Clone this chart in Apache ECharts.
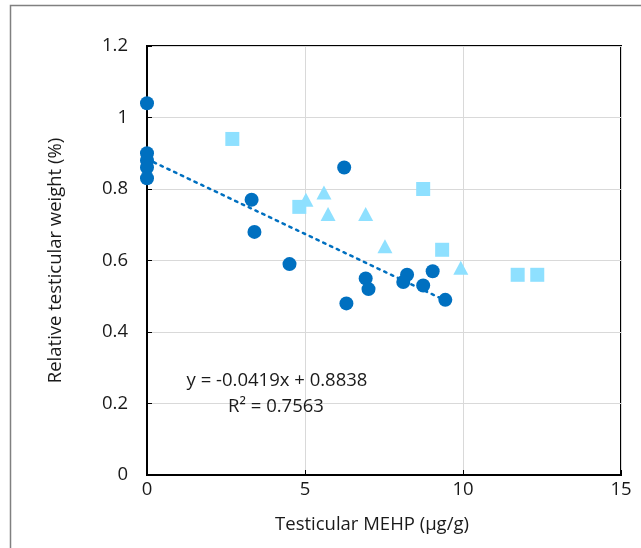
<!DOCTYPE html>
<html><head><meta charset="utf-8">
<script src="https://cdn.jsdelivr.net/npm/echarts@6/dist/echarts.min.js"></script>
<style>html,body{margin:0;padding:0;background:#fff}#c{width:641px;height:548px}</style>
</head><body><div id="c"></div>
<script>
// Dark blue circles (fitted series)
const circleX = [0, 0, 0, 0, 0, 3.31, 3.40, 4.51, 6.24, 6.31, 6.92, 7.01, 8.23, 8.11, 8.74, 9.04, 9.44];
const circleY = [1.04, 0.90, 0.88, 0.86, 0.83, 0.77, 0.68, 0.59, 0.86, 0.48, 0.55, 0.52, 0.56, 0.54, 0.53, 0.57, 0.49];
// Light blue squares
const squareX = [2.70, 4.82, 8.74, 9.34, 11.73, 12.35];
const squareY = [0.94, 0.75, 0.80, 0.63, 0.56, 0.56];
// Light blue triangles
const triX = [5.03, 5.60, 5.73, 6.92, 7.53, 9.93];
const triY = [0.77, 0.79, 0.73, 0.73, 0.64, 0.58];
// Linear trendline
const slope = -0.0419, intercept = 0.8838, r2 = 0.7563;
const xTicks = [0, 5, 10, 15];
const yTicks = [0, 0.2, 0.4, 0.6, 0.8, 1, 1.2];

const zip = (a, b) => a.map((v, i) => [v, b[i]]);
const xmin = Math.min(...circleX), xmax = Math.max(...circleX);
const trend = [[xmin, intercept + slope * xmin], [xmax, intercept + slope * xmax]];

const FONT = '"Open Sans", Lato, sans-serif';
const FS = 18.5;
const TXT = '#1a1a1a';
const DARK = '#0070C0', LIGHT = '#8EE0FF';

const chart = echarts.init(document.getElementById('c'), null, {renderer: 'canvas'});
chart.setOption({
  animation: false,
  backgroundColor: '#fff',
  grid: {left: 147, top: 46, right: 20, bottom: 73, show: true, borderColor: '#000', borderWidth: 2, containLabel: false},
  xAxis: {
    type: 'value', min: xTicks[0], max: xTicks[xTicks.length - 1], interval: xTicks[1] - xTicks[0],
    name: 'Testicular MEHP (\u03bcg/g)', nameLocation: 'middle', nameGap: 40,
    nameTextStyle: {fontFamily: FONT, fontSize: FS, color: TXT, padding: [0, 24, 0, 0]},
    axisLine: {show: true, lineStyle: {color: '#000', width: 2}},
    axisTick: {show: true, inside: true, length: 5, lineStyle: {color: '#000'}},
    axisLabel: {fontFamily: FONT, fontSize: FS, color: TXT, margin: 5},
    splitLine: {show: true, lineStyle: {color: '#d9d9d9', width: 1}}
  },
  yAxis: {
    type: 'value', min: yTicks[0], max: yTicks[yTicks.length - 1], interval: 0.2,
    name: 'Relative testicular weight (%)', nameLocation: 'middle', nameGap: 82,
    nameTextStyle: {fontFamily: FONT, fontSize: FS, color: TXT},
    axisLine: {show: true, lineStyle: {color: '#000', width: 2}},
    axisTick: {show: true, inside: true, length: 5, lineStyle: {color: '#000'}},
    axisLabel: {fontFamily: FONT, fontSize: FS, color: TXT, margin: 19,
      formatter: v => String(Math.round(v * 10) / 10)},
    splitLine: {show: true, lineStyle: {color: '#d9d9d9', width: 1}}
  },
  series: [
    {type: 'line', data: trend, symbol: 'none', z: 1,
     lineStyle: {color: DARK, width: 2.5, type: [2.5, 5], cap: 'round'}},
    {type: 'scatter', data: zip(squareX, squareY), symbol: 'rect', symbolSize: 14,
     itemStyle: {color: LIGHT, opacity: 1}, z: 3},
    {type: 'scatter', data: zip(triX, triY), symbol: 'triangle', symbolSize: [15, 14],
     itemStyle: {color: LIGHT, opacity: 1}, z: 3},
    {type: 'scatter', data: zip(circleX, circleY), symbol: 'circle', symbolSize: 14,
     itemStyle: {color: DARK, opacity: 1}, z: 4}
  ],
  graphic: [
    {type: 'rect', shape: {x: 10.5, y: 5.5, width: 700, height: 600},
     style: {fill: 'none', stroke: '#808080', lineWidth: 1.5}, z: 0, silent: true},
    {type: 'text', x: 277, y: 381, style: {
      text: 'y = ' + slope.toFixed(4) + 'x + ' + intercept.toFixed(4),
      font: FS + 'px ' + FONT, fill: TXT, align: 'center', verticalAlign: 'middle'}, z: 10},
    {type: 'text', x: 276, y: 407, style: {
      text: 'R\u00b2 = ' + r2.toFixed(4),
      font: FS + 'px ' + FONT, fill: TXT, align: 'center', verticalAlign: 'middle'}, z: 10}
  ]
});
</script>
</body></html>
